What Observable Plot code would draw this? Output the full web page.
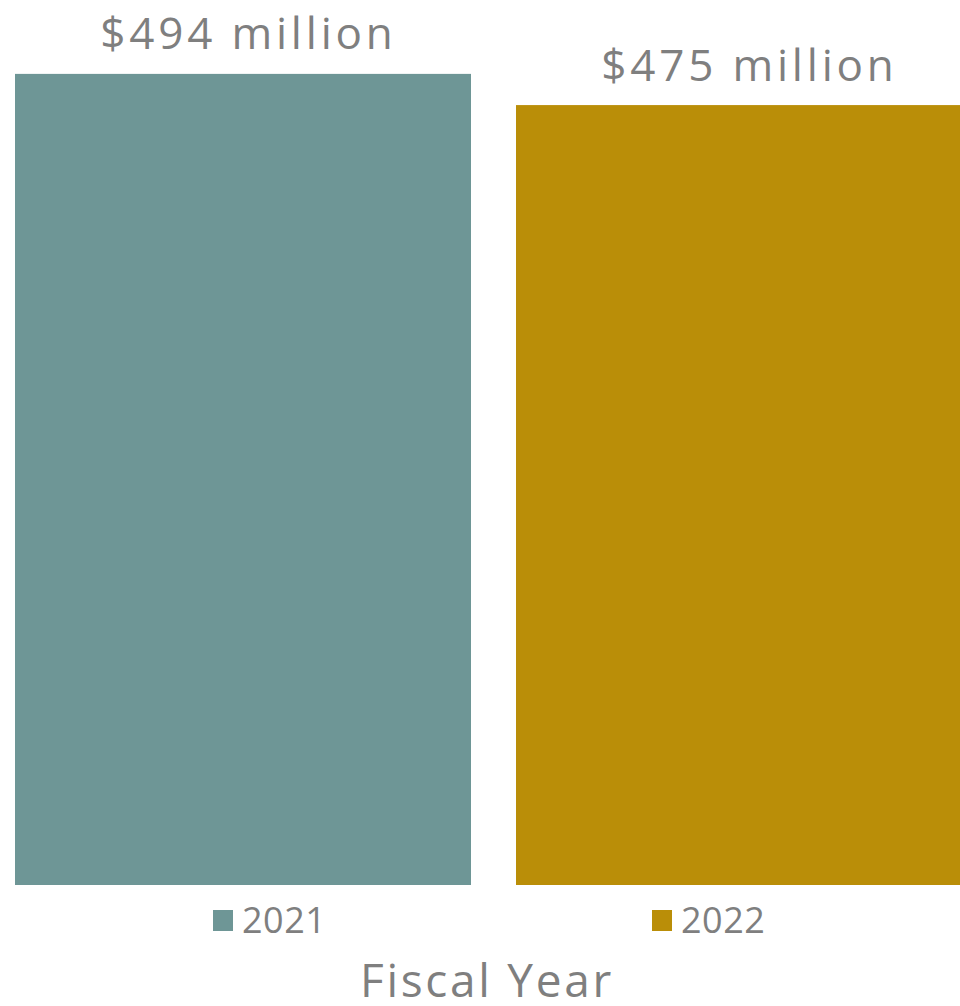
<!DOCTYPE html>
<html><head><meta charset="utf-8">
<script src="https://cdn.jsdelivr.net/npm/d3@7"></script>
<script src="https://cdn.jsdelivr.net/npm/@observablehq/plot@0.6"></script>
<style>
html,body{margin:0;padding:0;background:#fff;overflow:hidden;width:960px;height:1006px}
#wrap{position:relative;width:960px;height:1006px;font-family:"Open Sans",sans-serif;color:#7f7f7f;overflow:hidden}
#chart svg{display:block}
#chart svg text{letter-spacing:3.8px}
.leg{position:absolute;top:898px;height:44px;display:flex;align-items:center;font-size:36px;line-height:44px;white-space:nowrap;letter-spacing:0.5px}
.sw{width:20px;height:21px;margin-right:9px}
#title{position:absolute;top:947px;left:0;width:974px;text-align:center;font-size:46px;line-height:64px;letter-spacing:2.7px;white-space:nowrap}
</style></head><body><div id="wrap"><div id="chart"></div></div>
<script>
const years = ["2021", "2022"];
const values = [494, 475];
const labels = ["$494 million", "$475 million"];
const colors = ["#6E9696", "#BA8E08"];
const axisTitle = "Fiscal Year";
const legendLeft = [213, 652];

const data = years.map((y, i) => ({year: y, value: values[i], label: labels[i]}));

const chart = Plot.plot({
  width: 960, height: 885,
  marginTop: 0, marginBottom: 0, marginLeft: 15, marginRight: 0,
  x: {domain: years, range: [15, 972], paddingInner: 0.09, paddingOuter: 0, axis: null},
  y: {domain: [0, 539], axis: null},
  color: {domain: years, range: colors},
  style: {overflow: "hidden", fontFamily: "'Open Sans', sans-serif", background: "#fff"},
  marks: [
    Plot.barY(data, {x: "year", y: "value", fill: "year"}),
    Plot.text(data, {x: "year", y: "value", text: "label", dy: -25, dx: 5, lineAnchor: "bottom",
      fontSize: 44, fill: "#7f7f7f"})
  ]
});
const wrap = document.getElementById("wrap");
document.getElementById("chart").appendChild(chart);

years.forEach((y, i) => {
  const item = document.createElement("div");
  item.className = "leg";
  item.style.left = legendLeft[i] + "px";
  const sw = document.createElement("div");
  sw.className = "sw";
  sw.style.background = colors[i];
  const t = document.createElement("span");
  t.textContent = y;
  item.appendChild(sw); item.appendChild(t);
  wrap.appendChild(item);
});
const title = document.createElement("div");
title.id = "title";
title.textContent = axisTitle;
wrap.appendChild(title);
</script>
</body></html>
